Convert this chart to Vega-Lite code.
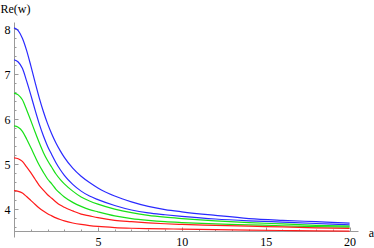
{
  "$schema": "https://vega.github.io/schema/vega-lite/v6.json",
  "width": 344,
  "height": 215,
  "autosize": "none",
  "padding": {"left": 14, "top": 22, "right": 16, "bottom": 11},
  "background": "white",
  "config": {"view": {"stroke": null}},
  "data": {"values": [
    {"c":"B1","a":0,"w":8.03},{"c":"B1","a":0.25,"w":7.97},{"c":"B1","a":0.5,"w":7.80},{"c":"B1","a":0.75,"w":7.53},{"c":"B1","a":1,"w":7.19},{"c":"B1","a":1.25,"w":6.83},{"c":"B1","a":1.5,"w":6.48},{"c":"B1","a":1.75,"w":6.17},{"c":"B1","a":2,"w":5.90},{"c":"B1","a":2.25,"w":5.67},{"c":"B1","a":2.5,"w":5.47},{"c":"B1","a":2.75,"w":5.30},{"c":"B1","a":3,"w":5.15},{"c":"B1","a":3.5,"w":4.91},{"c":"B1","a":4,"w":4.73},{"c":"B1","a":4.5,"w":4.59},{"c":"B1","a":5,"w":4.47},{"c":"B1","a":6,"w":4.29},{"c":"B1","a":7,"w":4.16},{"c":"B1","a":8,"w":4.06},{"c":"B1","a":9,"w":3.99},{"c":"B1","a":10,"w":3.94},{"c":"B1","a":12,"w":3.86},{"c":"B1","a":14,"w":3.79},{"c":"B1","a":16,"w":3.75},{"c":"B1","a":18,"w":3.72},{"c":"B1","a":20,"w":3.69},
    {"c":"B2","a":0,"w":7.32},{"c":"B2","a":0.25,"w":7.27},{"c":"B2","a":0.5,"w":7.13},{"c":"B2","a":0.75,"w":6.85},{"c":"B2","a":1,"w":6.54},{"c":"B2","a":1.25,"w":6.21},{"c":"B2","a":1.5,"w":5.90},{"c":"B2","a":1.75,"w":5.63},{"c":"B2","a":2,"w":5.40},{"c":"B2","a":2.25,"w":5.21},{"c":"B2","a":2.5,"w":5.03},{"c":"B2","a":2.75,"w":4.88},{"c":"B2","a":3,"w":4.75},{"c":"B2","a":3.5,"w":4.55},{"c":"B2","a":4,"w":4.40},{"c":"B2","a":4.5,"w":4.29},{"c":"B2","a":5,"w":4.21},{"c":"B2","a":6,"w":4.08},{"c":"B2","a":7,"w":3.98},{"c":"B2","a":8,"w":3.915},{"c":"B2","a":9,"w":3.875},{"c":"B2","a":10,"w":3.84},{"c":"B2","a":12,"w":3.78},{"c":"B2","a":14,"w":3.74},{"c":"B2","a":16,"w":3.71},{"c":"B2","a":18,"w":3.68},{"c":"B2","a":20,"w":3.65},
    {"c":"G1","a":0,"w":6.58},{"c":"G1","a":0.25,"w":6.54},{"c":"G1","a":0.5,"w":6.43},{"c":"G1","a":0.75,"w":6.21},{"c":"G1","a":1,"w":5.97},{"c":"G1","a":1.25,"w":5.72},{"c":"G1","a":1.5,"w":5.48},{"c":"G1","a":1.75,"w":5.26},{"c":"G1","a":2,"w":5.08},{"c":"G1","a":2.25,"w":4.93},{"c":"G1","a":2.5,"w":4.78},{"c":"G1","a":2.75,"w":4.66},{"c":"G1","a":3,"w":4.56},{"c":"G1","a":3.5,"w":4.40},{"c":"G1","a":4,"w":4.27},{"c":"G1","a":4.5,"w":4.18},{"c":"G1","a":5,"w":4.11},{"c":"G1","a":6,"w":4.00},{"c":"G1","a":7,"w":3.92},{"c":"G1","a":8,"w":3.86},{"c":"G1","a":9,"w":3.82},{"c":"G1","a":10,"w":3.79},{"c":"G1","a":12,"w":3.74},{"c":"G1","a":14,"w":3.70},{"c":"G1","a":16,"w":3.67},{"c":"G1","a":18,"w":3.64},{"c":"G1","a":20,"w":3.62},
    {"c":"G2","a":0,"w":5.85},{"c":"G2","a":0.25,"w":5.82},{"c":"G2","a":0.5,"w":5.73},{"c":"G2","a":0.75,"w":5.56},{"c":"G2","a":1,"w":5.37},{"c":"G2","a":1.25,"w":5.17},{"c":"G2","a":1.5,"w":4.98},{"c":"G2","a":1.75,"w":4.82},{"c":"G2","a":2,"w":4.67},{"c":"G2","a":2.25,"w":4.56},{"c":"G2","a":2.5,"w":4.44},{"c":"G2","a":2.75,"w":4.35},{"c":"G2","a":3,"w":4.27},{"c":"G2","a":3.5,"w":4.15},{"c":"G2","a":4,"w":4.06},{"c":"G2","a":4.5,"w":3.99},{"c":"G2","a":5,"w":3.94},{"c":"G2","a":6,"w":3.85},{"c":"G2","a":7,"w":3.79},{"c":"G2","a":8,"w":3.75},{"c":"G2","a":9,"w":3.72},{"c":"G2","a":10,"w":3.70},{"c":"G2","a":12,"w":3.67},{"c":"G2","a":14,"w":3.65},{"c":"G2","a":16,"w":3.63},{"c":"G2","a":18,"w":3.61},{"c":"G2","a":20,"w":3.60},
    {"c":"R1","a":0,"w":5.14},{"c":"R1","a":0.25,"w":5.12},{"c":"R1","a":0.5,"w":5.06},{"c":"R1","a":0.75,"w":4.94},{"c":"R1","a":1,"w":4.81},{"c":"R1","a":1.25,"w":4.67},{"c":"R1","a":1.5,"w":4.53},{"c":"R1","a":1.75,"w":4.42},{"c":"R1","a":2,"w":4.32},{"c":"R1","a":2.25,"w":4.24},{"c":"R1","a":2.5,"w":4.16},{"c":"R1","a":2.75,"w":4.09},{"c":"R1","a":3,"w":4.04},{"c":"R1","a":3.5,"w":3.96},{"c":"R1","a":4,"w":3.89},{"c":"R1","a":4.5,"w":3.85},{"c":"R1","a":5,"w":3.81},{"c":"R1","a":6,"w":3.75},{"c":"R1","a":7,"w":3.72},{"c":"R1","a":8,"w":3.695},{"c":"R1","a":9,"w":3.675},{"c":"R1","a":10,"w":3.66},{"c":"R1","a":12,"w":3.64},{"c":"R1","a":14,"w":3.62},{"c":"R1","a":16,"w":3.605},{"c":"R1","a":18,"w":3.585},{"c":"R1","a":20,"w":3.57},
    {"c":"R2","a":0,"w":4.41},{"c":"R2","a":0.25,"w":4.394},{"c":"R2","a":0.5,"w":4.356},{"c":"R2","a":0.75,"w":4.279},{"c":"R2","a":1,"w":4.195},{"c":"R2","a":1.25,"w":4.108},{"c":"R2","a":1.5,"w":4.026},{"c":"R2","a":1.75,"w":3.957},{"c":"R2","a":2,"w":3.897},{"c":"R2","a":2.25,"w":3.850},{"c":"R2","a":2.5,"w":3.805},{"c":"R2","a":2.75,"w":3.769},{"c":"R2","a":3,"w":3.738},{"c":"R2","a":3.5,"w":3.692},{"c":"R2","a":4,"w":3.659},{"c":"R2","a":4.5,"w":3.634},{"c":"R2","a":5,"w":3.615},{"c":"R2","a":6,"w":3.59},{"c":"R2","a":7,"w":3.575},{"c":"R2","a":8,"w":3.565},{"c":"R2","a":9,"w":3.56},{"c":"R2","a":10,"w":3.555},{"c":"R2","a":12,"w":3.545},{"c":"R2","a":14,"w":3.535},{"c":"R2","a":16,"w":3.525},{"c":"R2","a":18,"w":3.515},{"c":"R2","a":20,"w":3.51}
  ]},
  "mark": {"type": "line", "interpolate": "monotone", "strokeWidth": 1.2, "clip": false},
  "encoding": {
    "x": {
      "field": "a", "type": "quantitative",
      "scale": {"domain": [0, 20.5], "nice": false, "zero": false},
      "axis": {
        "offset": -6,
        "title": "a", "titleFont": "Liberation Serif, serif", "titleFontSize": 12, "titleFontWeight": "normal", "titleColor": "#000",
        "titleX": 357, "titleY": 5, "titleAlign": "center", "titleBaseline": "alphabetic", "titleAnchor": null,
        "values": [1,2,3,4,5,6,7,8,9,10,11,12,13,14,15,16,17,18,19,20],
        "labelExpr": "datum.value % 5 === 0 ? format(datum.value, 'd') : ''",
        "labelFont": "Liberation Serif, serif", "labelFontSize": 12, "labelColor": "#000",
        "labelPadding": 9, "labelFlush": false, "labelOverlap": false,
        "domainColor": "#9a9a9a", "domainWidth": 1,
        "tickColor": "#9a9a9a", "tickWidth": 1,
        "tickSize": {"condition": {"test": "datum.value % 5 === 0", "value": -4}, "value": -2},
        "grid": false
      }
    },
    "y": {
      "field": "w", "type": "quantitative",
      "scale": {"domain": [3.38, 8.16], "nice": false, "zero": false},
      "axis": {
        "title": "Re(w)", "titleFont": "Liberation Serif, serif", "titleFontSize": 12, "titleFontWeight": "normal", "titleColor": "#000",
        "titleAngle": 0, "titleX": -14, "titleY": -10, "titleAlign": "left", "titleBaseline": "alphabetic", "titleAnchor": null,
        "values": [3.6,3.8,4,4.2,4.4,4.6,4.8,5,5.2,5.4,5.6,5.8,6,6.2,6.4,6.6,6.8,7,7.2,7.4,7.6,7.8,8],
        "labelExpr": "abs(datum.value - round(datum.value)) < 0.01 ? format(datum.value, 'd') : ''",
        "labelFont": "Liberation Serif, serif", "labelFontSize": 12, "labelColor": "#000",
        "labelPadding": 8, "labelOverlap": false, "labelFlush": false,
        "domainColor": "#9a9a9a", "domainWidth": 1,
        "tickColor": "#9a9a9a", "tickWidth": 1,
        "tickSize": {"condition": {"test": "abs(datum.value - round(datum.value)) < 0.01", "value": -4}, "value": -2},
        "grid": false
      }
    },
    "color": {
      "field": "c", "type": "nominal",
      "scale": {"domain": ["B1","B2","G1","G2","R1","R2"], "range": ["#2a2aff","#2a2aff","#18e018","#18e018","#ff1a1a","#ff1a1a"]},
      "legend": null
    }
  }
}
